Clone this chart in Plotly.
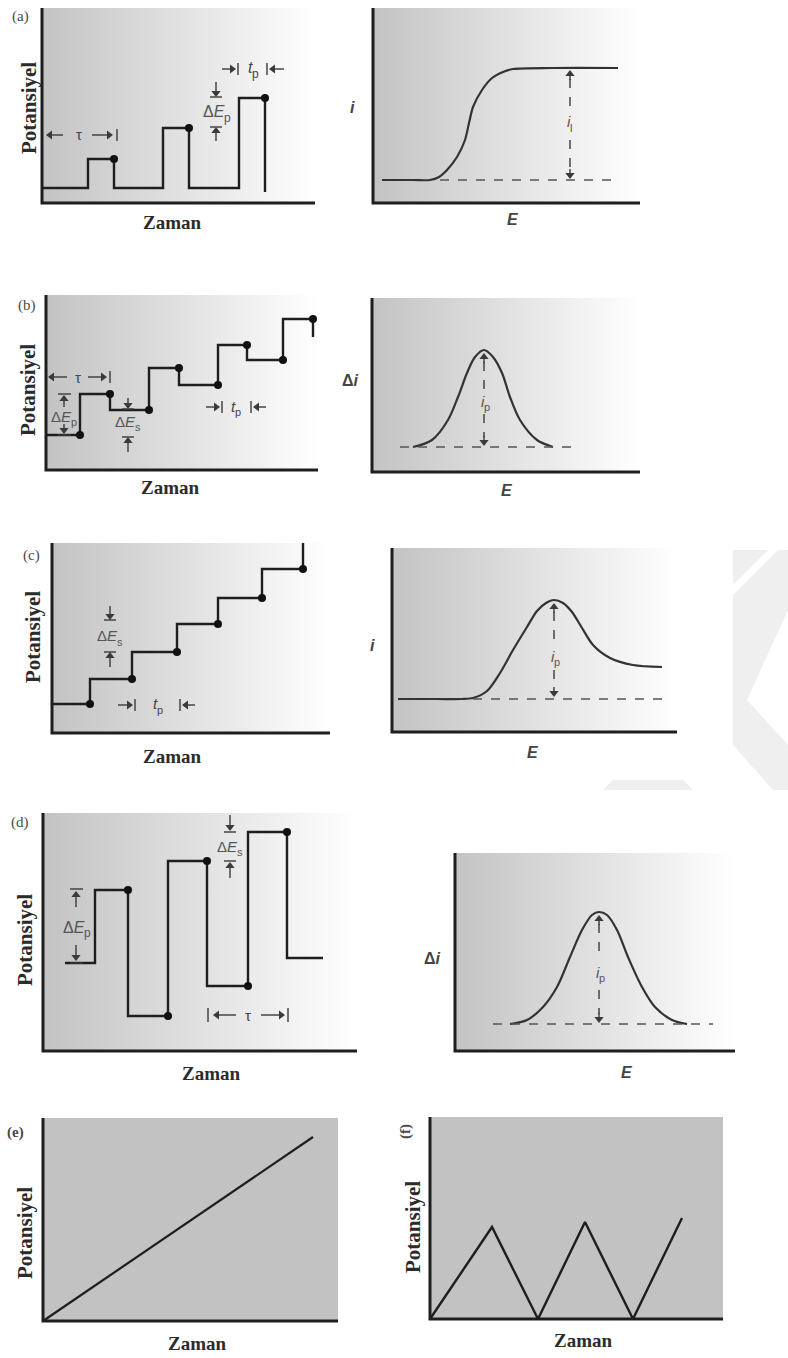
import plotly.graph_objects as go

FIG_W, FIG_H = 788, 1358

# ---------------- data (arbitrary units) ----------------
# (a) normal pulse voltammetry: waveform and sigmoidal response
a_base = 15
a_pulse_start = [46, 121, 197]
a_pulse_end = [72, 147, 223]
a_pulse_level = [44, 75, 105]
a_last_drop = 11
a_resp_E = [9, 40, 57, 66, 74, 84, 92, 96, 100, 109, 119, 130, 140, 180, 245]
a_resp_i = [23, 23, 23, 26, 33, 46, 63, 80, 96, 113, 125, 131, 134, 135, 135]
a_resp_base = 23
a_resp_base_E = [67, 245]

# (b) differential pulse voltammetry
b_step_time = [34, 64, 103, 133, 172, 201, 237, 267]
b_level = [35, 76, 60, 102, 85, 125, 110, 151]
b_final = 133
b_resp_E = [41, 60, 76, 86, 95, 103, 112, 121, 130, 138, 148, 165, 181]
b_resp_i = [25, 32, 52, 75, 99, 115, 122, 115, 99, 75, 52, 32, 25]
b_resp_base = 25
b_resp_base_E = [28, 205]

# (c) staircase voltammetry
c_step_time = [38, 80, 125, 166, 210, 251]
c_level = [29, 54, 81, 109, 135, 164]
c_final = 190
c_resp_E = [6, 45, 70, 81, 95, 108, 121, 135, 145, 154, 162, 171, 180, 190, 201, 218, 241, 270]
c_resp_i = [33, 33, 33, 34, 41, 59, 82, 105, 121, 129, 132, 129, 120, 104, 87, 74, 67, 65]
c_resp_base = 33
c_resp_base_E = [81, 270]

# (d) square wave voltammetry
d_start = 22
d_step_time = [52, 85, 125, 164, 205, 244, 280]
d_level = [88, 161, 35, 190, 65, 219, 93]
d_dot_index = [1, 2, 3, 4, 5]
d_resp_E = [55, 72, 88, 102, 115, 127, 137, 144, 152, 162, 173, 187, 200, 217, 232]
d_resp_i = [27, 31, 44, 64, 94, 121, 136, 139, 136, 121, 94, 64, 44, 31, 27]
d_resp_base = 27
d_resp_base_E = [38, 258]

# (e) linear sweep
e_time = [0, 270]
e_pot = [0, 184]

# (f) cyclic (triangular) sweep
f_time = [0, 62, 108, 155, 203, 252]
f_pot = [0, 92, 0, 97, 0, 101]

# ---------------- layout of the ten panels (pixels) ----------------
panels = [
    dict(x0=42, x1=315, yt=8, yb=203, bg='grad'),
    dict(x0=373, x1=640, yt=8, yb=203, bg='grad'),
    dict(x0=46, x1=318, yt=295, yb=470, bg='grad'),
    dict(x0=372, x1=640, yt=298, yb=472, bg='grad'),
    dict(x0=52, x1=330, yt=543, yb=733, bg='grad'),
    dict(x0=392, x1=677, yt=548, yb=732, bg='grad'),
    dict(x0=43, x1=357, yt=813, yb=1051, bg='grad'),
    dict(x0=455, x1=735, yt=853, yb=1051, bg='grad'),
    dict(x0=43, x1=338, yt=1118, yb=1321, bg='flat'),
    dict(x0=430, x1=723, yt=1117, yb=1319, bg='flat'),
]

PAD = 3
SANS = 'Liberation Sans'
SERIF = 'Liberation Serif'
LINE = '#1e1e1e'
ANN = '#3a3a3a'
HEAD = 8  # arrowhead marker size (px)

fig = go.Figure()
layout_axes = {}


def names(n):
    return ('x' if n == 1 else f'x{n}', 'y' if n == 1 else f'y{n}')


for n, p in enumerate(panels, 1):
    p['W'] = p['x1'] - p['x0']
    p['H'] = p['yb'] - p['yt']
    xa, ya = names(n)
    xk = 'xaxis' if n == 1 else f'xaxis{n}'
    yk = 'yaxis' if n == 1 else f'yaxis{n}'
    layout_axes[xk] = dict(domain=[(p['x0'] - PAD) / FIG_W, (p['x1'] + PAD) / FIG_W],
                           range=[-PAD, p['W'] + PAD], visible=False, anchor=ya)
    layout_axes[yk] = dict(domain=[1 - (p['yb'] + PAD) / FIG_H, 1 - (p['yt'] - PAD) / FIG_H],
                           range=[-PAD, p['H'] + PAD], visible=False, anchor=xa)


def add(n, **kw):
    xa, ya = names(n)
    kw.setdefault('hoverinfo', 'skip')
    fig.add_trace(go.Scatter(xaxis=xa, yaxis=ya, showlegend=False, **kw))


# backgrounds and axes
for n, p in enumerate(panels, 1):
    W, H = p['W'], p['H']
    if p['bg'] == 'grad':
        add(n, x=[0, W, W, 0, 0], y=[0, 0, H, H, 0], mode='lines', fill='toself',
            line=dict(width=0),
            fillgradient=dict(type='horizontal',
                              colorscale=[[0, '#c3c3c3'], [0.55, '#e4e4e4'], [1, '#ffffff']]))
    else:
        add(n, x=[0, W, W, 0, 0], y=[0, 0, H, H, 0], mode='lines', fill='toself',
            line=dict(width=0), fillcolor='#c2c2c2')
    add(n, x=[0, 0, W], y=[H, 0, 0], mode='lines', line=dict(color=LINE, width=3))


def line(n, x, y, width=2.4, color=LINE, dash=None, shape='linear', smoothing=None):
    ln = dict(color=color, width=width, dash=dash, shape=shape)
    if smoothing is not None:
        ln['smoothing'] = smoothing
    add(n, x=x, y=y, mode='lines', line=ln)


def dots(n, x, y):
    add(n, x=x, y=y, mode='markers', marker=dict(size=8, color='#111111'))


def arrow(n, x, y, ax, ay):
    """Line from tail (ax, ay) to tip (x, y) with a filled triangular head at the tip."""
    r = HEAD / 2.0
    if ax == x:
        sgn = 1 if y > ay else -1
        sym = 'triangle-up' if sgn > 0 else 'triangle-down'
        cx, cy = x, y - sgn * r
        lx, ly = [ax, x], [ay, y - sgn * r]
    else:
        sgn = 1 if x > ax else -1
        sym = 'triangle-right' if sgn > 0 else 'triangle-left'
        cx, cy = x - sgn * r, y
        lx, ly = [ax, x - sgn * r], [ay, y]
    add(n, x=lx, y=ly, mode='lines', line=dict(color=ANN, width=1.4))
    add(n, x=[cx], y=[cy], mode='markers', marker=dict(symbol=sym, size=HEAD, color=ANN))


def bars(n, segs):
    xs, ys = [], []
    for (x0, y0, x1, y1) in segs:
        xs += [x0, x1, None]
        ys += [y0, y1, None]
    line(n, xs, ys, width=1.4, color=ANN)


def dtext(n, txt, x, y, size=15, color='#444444', xanchor='center', xshift=0, yshift=0):
    xa, ya = names(n)
    fig.add_annotation(x=x, y=y, xref=xa, yref=ya, text=txt, showarrow=False,
                       xanchor=xanchor, yanchor='middle', xshift=xshift, yshift=yshift,
                       borderpad=0, borderwidth=0,
                       font=dict(family=SANS, size=size, color=color))


def subtext(n, main, sub, x, y, join, size=15, color='#555555'):
    """main text ends at x+join, its small subscript starts there (no HTML sub tags)."""
    dtext(n, main, x + join, y, size=size, color=color, xanchor='right', xshift=1)
    dtext(n, sub, x + join, y, size=size - 4, color=color, xanchor='left', xshift=0, yshift=-6)


def ptext(txt, x, y, size, family, color, angle=0):
    fig.add_annotation(x=x / FIG_W, y=1 - y / FIG_H, xref='paper', yref='paper', text=txt,
                       showarrow=False, textangle=angle, xanchor='center', yanchor='middle',
                       font=dict(family=family, size=size, color=color))


def dashed_double_arrow(n, x, top, bottom, gap_top, gap_bottom):
    line(n, [x, x], [top - 9, gap_top], width=1.4, color=ANN, dash='dash')
    line(n, [x, x], [gap_bottom, bottom + 9], width=1.4, color=ANN, dash='dash')
    arrow(n, x, top, x, top - 10)
    arrow(n, x, bottom, x, bottom + 10)


# ---------------- (a) ----------------
t, E = [0], [a_base]
for k, (s, e, l) in enumerate(zip(a_pulse_start, a_pulse_end, a_pulse_level)):
    last = a_last_drop if k == len(a_pulse_start) - 1 else a_base
    t += [s, s, e, e]
    E += [a_base, l, l, last]
line(1, t, E)
dots(1, a_pulse_end, a_pulse_level)
# tau
arrow(1, 4, 68, 21, 68)
arrow(1, 71, 68, 50, 68)
bars(1, [(75, 62, 75, 74)])
dtext(1, 'τ', 37, 68)
# delta E_p
xe = 174
bars(1, [(xe - 6, a_pulse_level[2] + 1, xe + 6, a_pulse_level[2] + 1),
         (xe - 6, a_pulse_level[1] + 1, xe + 6, a_pulse_level[1] + 1)])
arrow(1, xe, a_pulse_level[2] + 1, xe, a_pulse_level[2] + 16)
arrow(1, xe, a_pulse_level[1] + 1, xe, a_pulse_level[1] - 13)
subtext(1, 'Δ<i>E</i>', 'p', xe, 91, 8, size=16)
# t_p
tp0, tp1 = a_pulse_start[2] - 1, a_pulse_end[2] + 2
bars(1, [(tp0, 128, tp0, 140), (tp1, 128, tp1, 140)])
arrow(1, tp0 - 2, 134, tp0 - 16, 134)
arrow(1, tp1 + 2, 134, tp1 + 17, 134)
subtext(1, '<i>t</i>', 'p', 209, 135, 1, size=16, color='#444444')

line(2, a_resp_E, a_resp_i, width=2.2, color='#333333', shape='spline', smoothing=0.8)
line(2, a_resp_base_E, [a_resp_base] * 2, width=1.5, color='#555555', dash='dash')
dashed_double_arrow(2, 197, max(a_resp_i) - 2, a_resp_base + 1, 96, 63)
subtext(2, '<i>i</i>', 'l', 196, 81, 1)

# ---------------- (b) ----------------
t, E = [0], [b_level[0]]
for k, tk in enumerate(b_step_time):
    nxt = b_level[k + 1] if k + 1 < len(b_level) else b_final
    t += [tk, tk]
    E += [b_level[k], nxt]
line(3, t, E)
dots(3, b_step_time, b_level)
arrow(3, 2, 93, 21, 93)
arrow(3, 61, 93, 42, 93)
bars(3, [(64, 87, 64, 99)])
dtext(3, 'τ', 32, 93)
# delta E_p
bars(3, [(12, 76, 25, 76), (12, 35, 25, 35)])
arrow(3, 18, 75, 18, 63)
arrow(3, 18, 36, 18, 46)
subtext(3, 'Δ<i>E</i>', 'p', 18, 54, 7)
# delta E_s
bars(3, [(76, 61, 88, 61), (76, 33, 88, 33)])
arrow(3, 82, 61, 82, 72)
arrow(3, 82, 33, 82, 18)
subtext(3, 'Δ<i>E</i>', 's', 82, 49, 7)
# t_p
bars(3, [(176, 57, 176, 69), (205, 57, 205, 69)])
arrow(3, 174, 63, 160, 63)
arrow(3, 207, 63, 220, 63)
subtext(3, '<i>t</i>', 'p', 188, 64, 1, color='#444444')

line(4, b_resp_E, b_resp_i, width=2.2, color='#333333', shape='spline', smoothing=0.9)
line(4, b_resp_base_E, [b_resp_base] * 2, width=1.5, color='#555555', dash='dash')
dashed_double_arrow(4, 112, max(b_resp_i) - 3, b_resp_base + 1, 82, 58)
subtext(4, '<i>i</i>', 'p', 111, 71, 1)

# ---------------- (c) ----------------
t, E = [0], [c_level[0]]
for k, tk in enumerate(c_step_time):
    nxt = c_level[k + 1] if k + 1 < len(c_level) else c_final
    t += [tk, tk]
    E += [c_level[k], nxt]
line(5, t, E)
dots(5, c_step_time, c_level)
bars(5, [(52, 113, 64, 113), (52, 81, 64, 81)])
arrow(5, 58, 113, 58, 127)
arrow(5, 58, 81, 58, 66)
subtext(5, 'Δ<i>E</i>', 's', 58, 97, 7)
bars(5, [(83, 22, 83, 34), (128, 22, 128, 34)])
arrow(5, 81, 28, 66, 28)
arrow(5, 130, 28, 143, 28)
subtext(5, '<i>t</i>', 'p', 104, 29, 1, color='#444444')

line(6, c_resp_E, c_resp_i, width=2.2, color='#333333', shape='spline', smoothing=0.8)
line(6, c_resp_base_E, [c_resp_base] * 2, width=1.5, color='#555555', dash='dash')
dashed_double_arrow(6, 162, max(c_resp_i) - 3, c_resp_base + 2, 89, 62)
subtext(6, '<i>i</i>', 'p', 161, 76, 1)

# ---------------- (d) ----------------
t, E = [d_start], [d_level[0]]
for k in range(len(d_step_time) - 1):
    tk = d_step_time[k]
    t += [tk, tk]
    E += [d_level[k], d_level[k + 1]]
t.append(d_step_time[-1])
E.append(d_level[-1])
line(7, t, E)
dots(7, [d_step_time[i] for i in d_dot_index], [d_level[i] for i in d_dot_index])
bars(7, [(27, 162, 40, 162), (27, 88, 40, 88)])
arrow(7, 33, 160, 33, 144)
arrow(7, 33, 90, 33, 106)
subtext(7, 'Δ<i>E</i>', 'p', 33, 124, 8, size=16)
bars(7, [(181, 219, 193, 219), (181, 190, 193, 190)])
arrow(7, 187, 220, 187, 236)
arrow(7, 187, 189, 187, 173)
subtext(7, 'Δ<i>E</i>', 's', 187, 205, 7)
bars(7, [(165, 29, 165, 43), (245, 29, 245, 43)])
arrow(7, 170, 36, 193, 36)
arrow(7, 242, 36, 218, 36)
dtext(7, 'τ', 205, 36)

line(8, d_resp_E, d_resp_i, width=2.2, color='#333333', shape='spline', smoothing=0.9)
line(8, d_resp_base_E, [d_resp_base] * 2, width=1.5, color='#555555', dash='dash')
dashed_double_arrow(8, 144, max(d_resp_i) - 3, d_resp_base + 1, 94, 61)
subtext(8, '<i>i</i>', 'p', 143, 79, 1)

# ---------------- (e), (f) ----------------
line(9, e_time, e_pot, width=2.2)
line(10, f_time, f_pot, width=2.4)

# ---------------- labels ----------------
POT = '<b>Potansiyel</b>'
ZAM = '<b>Zaman</b>'
TXT = '#2b2b2b'
for (lab, lx, ly, rot), (px, py), (zx, zy) in [
        (('(a)', 20, 17, 0), (29, 108), (172, 223)),
        (('(b)', 27, 305, 0), (28, 390), (170, 487)),
        (('(c)', 31, 555, 0), (33, 637), (172, 756)),
        (('(d)', 20, 823, 0), (25, 940), (211, 1073)),
        (('<b>(e)</b>', 16, 1132, 0), (25, 1233), (197, 1343)),
        (('<b>(f)</b>', 405, 1132, -90), (413, 1227), (583, 1340))]:
    ptext(lab, lx, ly, 15, SERIF, '#4a4a4a', angle=rot)
    ptext(POT, px, py, 21, SERIF, TXT, angle=-90)
    ptext(ZAM, zx, zy, 19, SERIF, TXT)

for txt, x, y in [('<i>i</i>', 352, 108), ('<i>E</i>', 513, 220),
                  ('Δ<i>i</i>', 350, 380), ('<i>E</i>', 507, 490),
                  ('<i>i</i>', 372, 645), ('<i>E</i>', 533, 752),
                  ('Δ<i>i</i>', 432, 958), ('<i>E</i>', 627, 1072)]:
    ptext('<b>' + txt + '</b>', x, y, 16, SANS, '#444444')


# ---------------- faint watermark ----------------
def path(pts):
    return 'M ' + ' L '.join(f'{x / FIG_W:.5f},{1 - y / FIG_H:.5f}' for x, y in pts) + ' Z'


for pts in [[(733, 550), (768, 550), (733, 585)],
            [(778, 550), (788, 550), (788, 610), (747, 700), (788, 745), (788, 790),
             (773, 790), (733, 745), (733, 595)],
            [(603, 790), (693, 790), (683, 780), (613, 780)]]:
    fig.add_shape(type='path', path=path(pts), xref='paper', yref='paper',
                  fillcolor='#efefef', line=dict(width=0), layer='below')

fig.update_layout(width=FIG_W, height=FIG_H, margin=dict(l=0, r=0, t=0, b=0),
                  paper_bgcolor='white', plot_bgcolor='rgba(0,0,0,0)',
                  showlegend=False, **layout_axes)

fig.write_html('out.html')
